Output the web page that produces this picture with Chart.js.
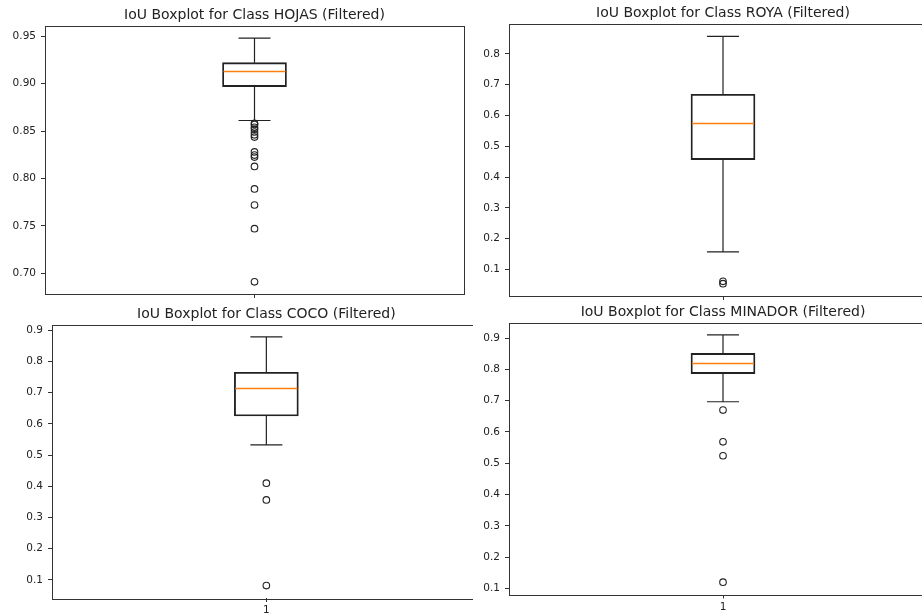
<!DOCTYPE html>
<html>
<head>
<meta charset="utf-8">
<script src="https://cdn.jsdelivr.net/npm/chart.js@4.4.1/dist/chart.umd.min.js"></script>
<style>
  html, body { margin:0; padding:0; background:#fff; width:922px; height:613px; overflow:hidden; }
  canvas { position:absolute; background:#fff; }
</style>
</head>
<body>
<canvas id="cA" width="465" height="302" style="left:0px;top:0px;z-index:1"></canvas>
<canvas id="cB" width="472" height="302" style="left:468px;top:0px;z-index:2"></canvas>
<canvas id="cC" width="482" height="313" style="left:0px;top:300px;z-index:3"></canvas>
<canvas id="cD" width="468" height="313" style="left:473px;top:300px;z-index:4"></canvas>
<script>
// ---- data (whisker-low, Q1, median, Q3, whisker-high) ----
const LABELS = ['1'];

const HOJAS_BOX = [0.8611, 0.8968, 0.9129, 0.9221, 0.9479];
const HOJAS_OUT = [0.858, 0.857, 0.854, 0.852, 0.849, 0.846, 0.8436, 0.828, 0.8246, 0.8225, 0.8127, 0.789, 0.772, 0.747, 0.691];
const HOJAS_TICKS = [0.70, 0.75, 0.80, 0.85, 0.90, 0.95];

const ROYA_BOX = [0.157, 0.4565, 0.574, 0.669, 0.857];
const ROYA_OUT = [0.061, 0.0535];
const ROYA_TICKS = [0.1, 0.2, 0.3, 0.4, 0.5, 0.6, 0.7, 0.8];

const COCO_BOX = [0.5325, 0.6254, 0.715, 0.7654, 0.8786];
const COCO_OUT = [0.4098, 0.3563, 0.0817];
const COCO_TICKS = [0.1, 0.2, 0.3, 0.4, 0.5, 0.6, 0.7, 0.8, 0.9];

const MINADOR_BOX = [0.6966, 0.7865, 0.8205, 0.8512, 0.9105];
const MINADOR_OUT = [0.670, 0.5684, 0.524, 0.120];
const MINADOR_TICKS = [0.1, 0.2, 0.3, 0.4, 0.5, 0.6, 0.7, 0.8, 0.9];

const FONT = 'DejaVu Sans';

function boxPlugin(box) {
  return {
    id: 'boxparts',
    afterDatasetsDraw(chart) {
      const ctx = chart.ctx, ys = chart.scales.y, ca = chart.chartArea;
      const el = chart.getDatasetMeta(0).data[0];
      const x = el.x, w = el.width;
      ctx.save();
      ctx.strokeStyle = '#222';
      ctx.lineWidth = 1.2;
      ctx.beginPath();
      ctx.moveTo(x, ys.getPixelForValue(box[3])); ctx.lineTo(x, ys.getPixelForValue(box[4]));
      ctx.moveTo(x, ys.getPixelForValue(box[1])); ctx.lineTo(x, ys.getPixelForValue(box[0]));
      ctx.moveTo(x - w / 4, ys.getPixelForValue(box[4])); ctx.lineTo(x + w / 4, ys.getPixelForValue(box[4]));
      ctx.moveTo(x - w / 4, ys.getPixelForValue(box[0])); ctx.lineTo(x + w / 4, ys.getPixelForValue(box[0]));
      ctx.stroke();
      ctx.strokeStyle = '#ff7f0e';
      ctx.lineWidth = 1.5;
      ctx.beginPath();
      const my = Math.round(ys.getPixelForValue(box[2])) + 0.5;
      ctx.moveTo(x - w / 2 + 1, my); ctx.lineTo(x + w / 2 - 1, my);
      ctx.stroke();
      ctx.strokeStyle = '#333';
      ctx.lineWidth = 1;
      ctx.strokeRect(Math.round(ca.left) + 0.5, Math.round(ca.top) + 0.5, Math.round(ca.right - ca.left), Math.round(ca.bottom - ca.top));
      ctx.restore();
    }
  };
}

function buildConfig(title, box, outl, ticks, dec, g, padR, padB) {
  const all = box.concat(outl);
  const lo = Math.min(...all), hi = Math.max(...all), m = (hi - lo) * 0.05;
  return {
    type: 'bar',
    data: {
      labels: LABELS,
      datasets: [
        { type: 'bar', data: [[box[1], box[3]]], backgroundColor: 'rgba(0,0,0,0)', borderColor: '#222',
          borderWidth: 1.2, borderSkipped: false, barThickness: 64, order: 2 },
        { type: 'line', data: outl.map(v => ({ x: LABELS[0], y: v })), showLine: false,
          pointRadius: 3.3, pointHoverRadius: 3.3, pointBorderWidth: 1.1, pointBorderColor: '#222',
          pointBackgroundColor: 'rgba(0,0,0,0)', order: 1 }
      ]
    },
    options: {
      responsive: false, animation: false, devicePixelRatio: 1,
      layout: { autoPadding: false, padding: { left: 0, right: padR, top: 0, bottom: padB } },
      plugins: {
        legend: { display: false }, tooltip: { enabled: false },
        title: { display: true, text: title, fullSize: false, color: '#222',
          font: { family: FONT, size: 14, weight: 'normal', lineHeight: 1.2 },
          padding: { top: g.tTop, bottom: g.tBot } }
      },
      scales: {
        x: {
          offset: true,
          grid: { display: true, offset: false, drawOnChartArea: false, drawTicks: true, tickLength: 4, color: '#333' },
          border: { display: false },
          ticks: { display: g.xLabels, color: '#222', font: { family: FONT, size: 10.5 }, padding: 2, maxRotation: 0 },
          afterFit(s) { s.height = g.xH; s.paddingLeft = 0; s.paddingRight = 0; }
        },
        y: {
          min: lo - m, max: hi + m,
          afterBuildTicks(s) { s.ticks = ticks.map(v => ({ value: v })); },
          grid: { display: true, drawOnChartArea: false, drawTicks: true, tickLength: 4, color: '#333' },
          border: { display: false },
          ticks: { color: '#222', font: { family: FONT, size: 10.5 }, padding: 5, callback: v => Number(v).toFixed(dec) },
          afterFit(s) { s.width = g.yW; s.paddingTop = 0; s.paddingBottom = 0; }
        }
      }
    },
    plugins: [boxPlugin(box)]
  };
}

function makePanel(id, title, box, outl, ticks, dec, g) {
  const el = document.getElementById(id);
  let padR = 0, padB = 0;
  let chart = new Chart(el, buildConfig(title, box, outl, ticks, dec, g, padR, padB));
  for (let i = 0; i < 2; i++) {
    const ca = chart.chartArea;
    padR += ca.right - g.r;
    padB += ca.bottom - g.b;
    chart.destroy();
    chart = new Chart(el, buildConfig(title, box, outl, ticks, dec, g, padR, padB));
  }
}

// geometry: y-axis width, x-axis height, title paddings, wanted chart-area right/bottom (canvas px)
makePanel('cA', 'IoU Boxplot for Class HOJAS (Filtered)', HOJAS_BOX, HOJAS_OUT, HOJAS_TICKS, 2,
  { yW: 45, xH: 8, tTop: 6.6, tBot: 2.6, r: 464, b: 294, xLabels: false });
makePanel('cB', 'IoU Boxplot for Class ROYA (Filtered)', ROYA_BOX, ROYA_OUT, ROYA_TICKS, 1,
  { yW: 41, xH: 6, tTop: 4.6, tBot: 2.6, r: 469, b: 296, xLabels: false });
makePanel('cC', 'IoU Boxplot for Class COCO (Filtered)', COCO_BOX, COCO_OUT, COCO_TICKS, 1,
  { yW: 52, xH: 15, tTop: 5.6, tBot: 2.1, r: 480.7, b: 298, xLabels: true });
makePanel('cD', 'IoU Boxplot for Class MINADOR (Filtered)', MINADOR_BOX, MINADOR_OUT, MINADOR_TICKS, 1,
  { yW: 36, xH: 18.5, tTop: 3.6, tBot: 2.1, r: 464, b: 294.5, xLabels: true });
</script>
</body>
</html>
